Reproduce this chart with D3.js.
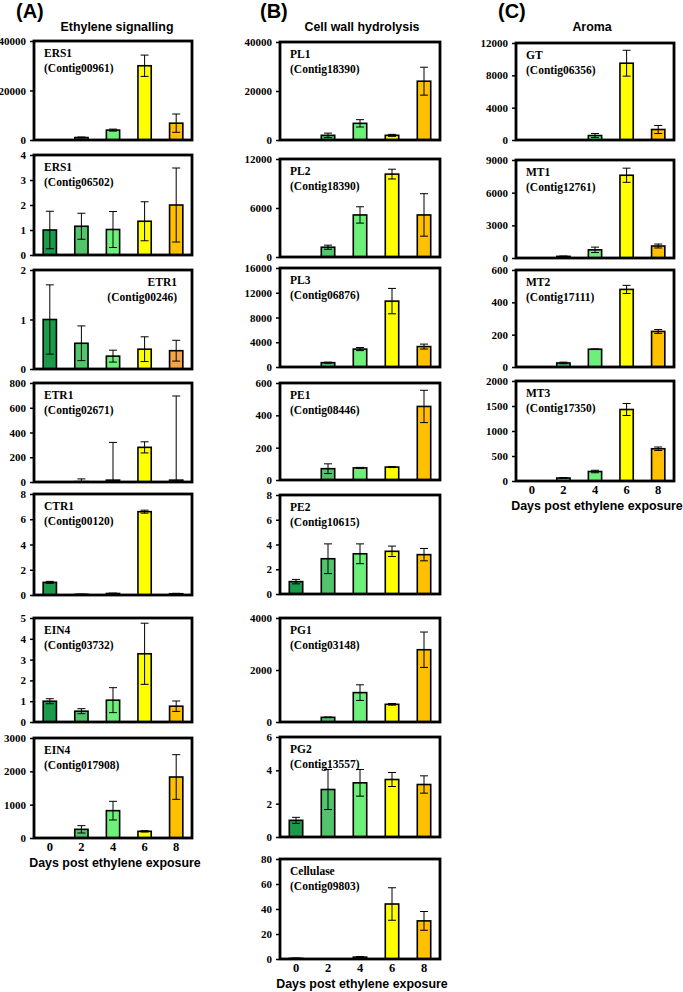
<!DOCTYPE html>
<html><head><meta charset="utf-8">
<script src="https://cdn.jsdelivr.net/npm/d3@7"></script>
<style>body{margin:0;background:#fff}</style>
</head><body>
<svg id="c" width="683" height="992"></svg>
<script>
// ---------- DATA ----------
const days = ["0", "2", "4", "6", "8"];
const columnHeads = ["(A)", "(B)", "(C)"];
const columnTitles = ["Ethylene signalling", "Cell wall hydrolysis", "Aroma"];
const xAxisTitle = "Days post ethylene exposure";

const genes = ["ERS1", "ERS1", "ETR1", "ETR1", "CTR1", "EIN4", "EIN4",
  "PL1", "PL2", "PL3", "PE1", "PE2", "PG1", "PG2", "Cellulase",
  "GT", "MT1", "MT2", "MT3"];
const contigs = ["(Contig00961)", "(Contig06502)", "(Contig00246)", "(Contig02671)", "(Contig00120)", "(Contig03732)", "(Contig017908)",
  "(Contig18390)", "(Contig18390)", "(Contig06876)", "(Contig08446)", "(Contig10615)", "(Contig03148)", "(Contig13557)", "(Contig09803)",
  "(Contig06356)", "(Contig12761)", "(Contig17111)", "(Contig17350)"];
const panelColumn = [0, 0, 0, 0, 0, 0, 0, 1, 1, 1, 1, 1, 1, 1, 1, 2, 2, 2, 2];

const values = [
  [0, 1000, 4000, 30000, 6800],
  [1.0, 1.15, 1.02, 1.35, 2.0],
  [1.0, 0.52, 0.26, 0.40, 0.37],
  [0, 3, 15, 280, 15],
  [1.0, 0.05, 0.12, 6.6, 0.1],
  [1.0, 0.52, 1.05, 3.28, 0.76],
  [0, 260, 820, 200, 1830],
  [0, 1900, 6800, 1900, 24000],
  [0, 1200, 5150, 10150, 5150],
  [0, 700, 2900, 10650, 3300],
  [0, 70, 75, 80, 455],
  [1.0, 2.85, 3.25, 3.45, 3.18],
  [0, 180, 1130, 680, 2780],
  [1.0, 2.85, 3.25, 3.45, 3.15],
  [0.5, 0, 1.5, 44, 30.5],
  [0, 0, 550, 9500, 1300],
  [0, 150, 750, 7600, 1100],
  [0, 25, 110, 480, 220],
  [0, 60, 190, 1430, 645]
];
const errors = [
  [0, 200, 400, 4300, 3700],
  [0.75, 0.52, 0.72, 0.78, 1.48],
  [0.70, 0.35, 0.12, 0.25, 0.21],
  [0, 22, 305, 45, 680],
  [0.08, 0.02, 0.03, 0.12, 0.03],
  [0.12, 0.12, 0.60, 1.47, 0.25],
  [0, 110, 280, 20, 670],
  [0, 900, 1500, 400, 5700],
  [0, 250, 1000, 600, 2600],
  [0, 80, 250, 2050, 400],
  [0, 30, 3, 3, 100],
  [0.18, 1.2, 0.8, 0.42, 0.5],
  [0, 10, 300, 30, 680],
  [0.18, 1.2, 0.8, 0.42, 0.52],
  [0.3, 0, 0.5, 13, 7.5],
  [0, 0, 250, 1600, 500],
  [0, 30, 250, 650, 180],
  [0, 5, 2, 25, 12],
  [0, 10, 25, 120, 35]
];
const yTicks = [
  [0, 20000, 40000],
  [0, 1, 2, 3, 4],
  [0, 1, 2],
  [0, 200, 400, 600, 800],
  [0, 2, 4, 6, 8],
  [0, 1, 2, 3, 4, 5],
  [0, 1000, 2000, 3000],
  [0, 20000, 40000],
  [0, 6000, 12000],
  [0, 4000, 8000, 12000, 16000],
  [0, 200, 400, 600],
  [0, 2, 4, 6, 8],
  [0, 2000, 4000],
  [0, 2, 4, 6],
  [0, 20, 40, 60, 80],
  [0, 4000, 8000, 12000],
  [0, 3000, 6000, 9000],
  [0, 200, 400, 600],
  [0, 500, 1000, 1500, 2000]
];

// ---------- STYLE / LAYOUT ----------
const dayColors = ["#1b9a4b", "#52c46c", "#6cf07a", "#ffff00", "#ffc000"];
const colorOverride = {"2-4": "#f5a443"};
const labelRight = {2: true};
const colX = [[34, 192], [280, 440], [516, 674]];
const colCenter = [117, 362, 592];
const headX = [16, 260, 498];
const panelTop = [41, 155, 270, 383, 494, 618, 738, 42, 159, 268, 383, 495, 618, 737, 859, 43, 160, 270, 381];
const panelBottom = [140, 255, 369, 482, 595, 722, 838, 140, 257, 367, 480, 594, 722, 837, 959, 140, 258, 367, 481];

const svg = d3.select("#c");
const serif = "'Liberation Serif', 'Times New Roman', serif";
const sans = "'Liberation Sans', Arial, sans-serif";

columnHeads.forEach((h, i) => {
  svg.append("text").attr("x", headX[i]).attr("y", 18).text(h)
    .attr("font-family", sans).attr("font-weight", "bold").attr("font-size", 20);
  svg.append("text").attr("x", colCenter[i]).attr("y", 31).attr("text-anchor", "middle")
    .text(columnTitles[i]).attr("font-family", sans).attr("font-weight", "bold").attr("font-size", 12.4);
});

genes.forEach((g, p) => {
  const c = panelColumn[p];
  const [x0, x1] = colX[c];
  const top = panelTop[p], bot = panelBottom[p];
  const x = d3.scaleBand().domain(days).range([x0, x1]).paddingInner(0.58).paddingOuter(0.29);
  const ticks = yTicks[p];
  const y = d3.scaleLinear().domain([0, ticks[ticks.length - 1]]).range([bot, top]);
  const gp = svg.append("g");
  const rows = days.map((d, i) => ({d, i, v: values[p][i], e: errors[p][i]}));

  gp.selectAll("rect.bar").data(rows.filter(r => r.v > 0)).join("rect")
    .attr("x", r => x(r.d)).attr("width", x.bandwidth())
    .attr("y", r => y(r.v)).attr("height", r => Math.max(0, bot - y(r.v)))
    .attr("fill", r => colorOverride[p + "-" + r.i] || dayColors[r.i])
    .attr("stroke", "#000").attr("stroke-width", 1.6);

  const eb = rows.filter(r => r.e > 0);
  const cx = r => x(r.d) + x.bandwidth() / 2;
  gp.selectAll("line.ev").data(eb).join("line")
    .attr("x1", cx).attr("x2", cx)
    .attr("y1", r => y(Math.max(0, r.v - r.e))).attr("y2", r => y(r.v + r.e))
    .attr("stroke", "#000").attr("stroke-width", 1);
  gp.selectAll("line.et").data(eb).join("line")
    .attr("x1", r => cx(r) - 4).attr("x2", r => cx(r) + 4)
    .attr("y1", r => y(r.v + r.e)).attr("y2", r => y(r.v + r.e))
    .attr("stroke", "#000").attr("stroke-width", 1);
  gp.selectAll("line.eb").data(eb.filter(r => r.v - r.e > 0)).join("line")
    .attr("x1", r => cx(r) - 4).attr("x2", r => cx(r) + 4)
    .attr("y1", r => y(r.v - r.e)).attr("y2", r => y(r.v - r.e))
    .attr("stroke", "#000").attr("stroke-width", 1);

  gp.append("rect").attr("x", x0).attr("y", top).attr("width", x1 - x0).attr("height", bot - top)
    .attr("fill", "none").attr("stroke", "#000").attr("stroke-width", 2.8);

  const ax = gp.append("g").attr("transform", `translate(${x0 - 1},0)`)
    .call(d3.axisLeft(y).tickValues(ticks).tickSize(3).tickPadding(4).tickFormat(d3.format("d")));
  ax.select(".domain").remove();
  ax.selectAll("line").attr("stroke-width", 1.5);
  ax.selectAll("text").attr("font-family", serif).attr("font-weight", "bold").attr("font-size", 11).attr("fill", "#000");

  const right = !!labelRight[p];
  const lx = right ? x1 - 15 : x0 + 10;
  const lt = gp.append("g").attr("font-family", serif).attr("font-weight", "bold").attr("font-size", 11.5)
    .attr("text-anchor", right ? "end" : "start");
  lt.append("text").attr("x", lx).attr("y", top + 16).text(g);
  lt.append("text").attr("x", lx).attr("y", top + 31).text(contigs[p]);

  const isLast = p === genes.length - 1 || panelColumn[p + 1] !== c;
  if (isLast) {
    const xa = gp.append("g").attr("transform", `translate(0,${bot})`)
      .call(d3.axisBottom(x).tickSize(0).tickPadding(4));
    xa.select(".domain").remove();
    xa.selectAll("text").attr("font-family", serif).attr("font-weight", "bold").attr("font-size", 12.5).attr("fill", "#000");
    gp.append("text").attr("x", (x0 + x1) / 2 + 2).attr("y", bot + 29).attr("text-anchor", "middle")
      .text(xAxisTitle).attr("font-family", sans).attr("font-weight", "bold").attr("font-size", 12.4);
  }
});
</script>
</body></html>
